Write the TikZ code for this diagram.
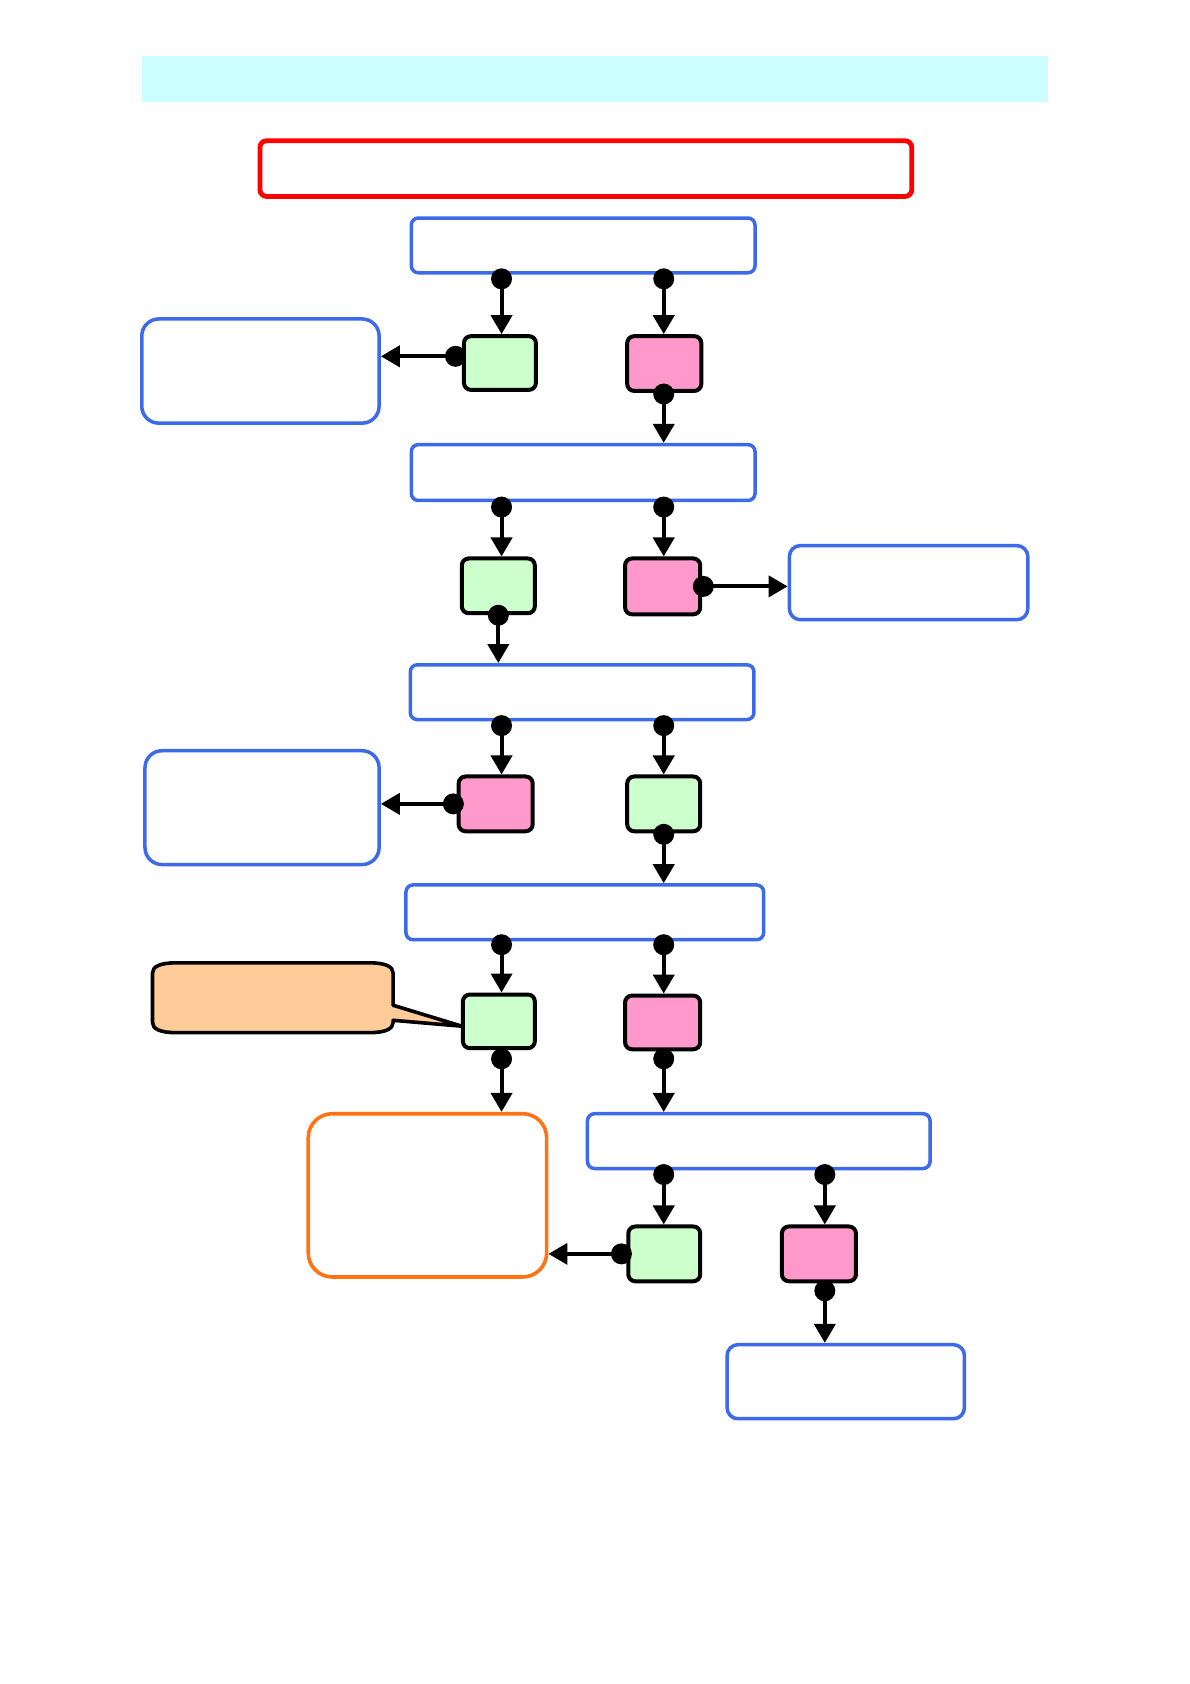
\documentclass[tikz,border=0pt]{standalone}
\usetikzlibrary{arrows.meta}
\definecolor{barcyan}{HTML}{CCFFFF}
\definecolor{boxblue}{RGB}{60,106,232}
\definecolor{boxred}{RGB}{255,0,0}
\definecolor{gfill}{HTML}{CCFFCC}
\definecolor{pfill}{HTML}{FF99CC}
\definecolor{calfill}{HTML}{FFCC99}
\definecolor{boxorange}{RGB}{255,115,20}
\def\u{0.537pt}
\tikzset{
  bbox/.style={draw=boxblue, line width=1.75pt, rounded corners=3.5pt, fill=white, inner sep=0pt},
  gbox/.style={draw=black, line width=2pt, rounded corners=3.5pt, fill=gfill, inner sep=0pt},
  pbox/.style={draw=black, line width=2pt, rounded corners=3.5pt, fill=pfill, inner sep=0pt},
  conn/.style={line width=2pt, -{Triangle[length=9.5pt,width=10.5pt]}},
  dot/.style={circle, fill=black, draw=none, inner sep=0pt, minimum size=10.5pt},
  sz/.style 2 args={minimum width=#1*\u, minimum height=#2*\u},
}
\begin{document}
\begin{tikzpicture}[x=0.537pt,y=-0.537pt]
\useasboundingbox (0,0) rectangle (1108,1568);
% column coordinates
\coordinate (colA) at (467,0);
\coordinate (colB) at (618,0);
\coordinate (colC) at (768,0);

% callout (drawn first so the box it points to lies on top of its tip)
\draw[line width=1.8pt, fill=calfill, line join=round]
  (164,896.5) -- (344,896.5) .. controls (359,896.5) and (366,900) .. (366,906)
  -- (366,936) -- (430,955.5) -- (366,950) -- (366,952)
  .. controls (366,958) and (359,961.5) .. (344,961.5) -- (164,961.5)
  .. controls (149,961.5) and (142,958) .. (142,952) -- (142,906)
  .. controls (142,900) and (149,896.5) .. (164,896.5) -- cycle;

\node[fill=barcyan, draw=none, inner sep=0pt, sz={844}{43}] (bar) at (554,73.5) {};
\node[draw=boxred, line width=2.4pt, rounded corners=3.5pt, inner sep=0pt, sz={607}{52}] (title) at (545.5,157) {};

\node[bbox, sz={320}{51}] (b1) at (543,228.5) {};
\node[gbox, sz={67}{50}] (g1) at (465.5,338) {};
\node[pbox, sz={69}{51}] (p1) at (618.5,338.5) {};
\node[bbox, rounded corners=8.5pt, sz={221}{97}] (l1) at (242.5,345.5) {};

\node[bbox, sz={320}{52}] (b2) at (543,440) {};
\node[gbox, sz={68}{51}] (g2) at (464,545.5) {};
\node[pbox, sz={70}{52}] (p2) at (617,546) {};
\node[bbox, rounded corners=5.5pt, sz={222}{69}] (r1) at (846,542.5) {};

\node[bbox, sz={320}{51}] (b3) at (542,644.5) {};
\node[pbox, sz={69}{51}] (p3) at (461.5,748.5) {};
\node[gbox, sz={68}{51}] (g3) at (618,748.5) {};
\node[bbox, rounded corners=8.5pt, sz={218}{106}] (l2) at (244,752) {};

\node[bbox, sz={333}{51}] (b4) at (544.5,849.5) {};
\node[gbox, sz={67}{50}] (g4) at (464.5,951) {};
\node[pbox, sz={70}{50}] (p4) at (617,952) {};

\node[draw=boxorange, line width=1.8pt, rounded corners=12pt, fill=white, inner sep=0pt, sz={222}{152}] (o) at (398,1113) {};
\node[bbox, sz={319}{51}] (b5) at (706.5,1062.5) {};
\node[gbox, sz={67}{51}] (g5) at (618.5,1167.5) {};
\node[pbox, sz={69}{51}] (p5) at (762.5,1167.5) {};
\node[bbox, rounded corners=5.5pt, sz={221}{69}] (b6) at (787.5,1286.5) {};

% connectors
\draw[conn] (b1.south -| colA) node[dot, shift={(0,4)}]{} -- (g1.north -| colA);
\draw[conn] (b1.south -| colB) node[dot, shift={(0,4)}]{} -- (p1.north -| colB);
\draw[conn] (g1.170) node[dot, shift={(-6,0)}]{} -- (l1.east |- g1.170);
\draw[conn] (p1.south -| colB) node[dot, shift={(0,1)}]{} -- (b2.north -| colB);

\draw[conn] (b2.south -| colA) node[dot, shift={(0,4.5)}]{} -- (g2.north -| colA);
\draw[conn] (b2.south -| colB) node[dot, shift={(0,4.5)}]{} -- (p2.north -| colB);
\draw[conn] (p2.east) node[dot, shift={(1,0)}]{} -- (r1.west |- p2.east);
\draw[conn] (g2.south) node[dot]{} -- (b3.north -| g2.south);

\draw[conn] (b3.south -| colA) node[dot, shift={(0,4)}]{} -- (p3.north -| colA);
\draw[conn] (b3.south -| colB) node[dot, shift={(0,4)}]{} -- (g3.north -| colB);
\draw[conn] (p3.west) node[dot, shift={(-3,0)}]{} -- (l2.east |- p3.west);
\draw[conn] (g3.south) node[dot, shift={(0,1)}]{} -- (b4.north -| g3.south);

\draw[conn] (b4.south -| colA) node[dot, shift={(0,3)}]{} -- (g4.north -| colA);
\draw[conn] (b4.south -| colB) node[dot, shift={(0,3)}]{} -- (p4.north -| colB);
\draw[conn] (g4.south -| colA) node[dot, shift={(0,8)}]{} -- (o.north -| colA);
\draw[conn] (p4.south -| colB) node[dot, shift={(0,7)}]{} -- (b5.north -| colB);

\draw[conn] (b5.south -| colB) node[dot, shift={(0,4)}]{} -- (g5.north -| colB);
\draw[conn] (b5.south -| colC) node[dot, shift={(0,4)}]{} -- (p5.north -| colC);
\draw[conn] (g5.west) node[dot, shift={(-4.5,0)}]{} -- (o.east |- g5.west);
\draw[conn] (p5.south -| colC) node[dot, shift={(0,7)}]{} -- (b6.north -| colC);
\end{tikzpicture}
\end{document}
